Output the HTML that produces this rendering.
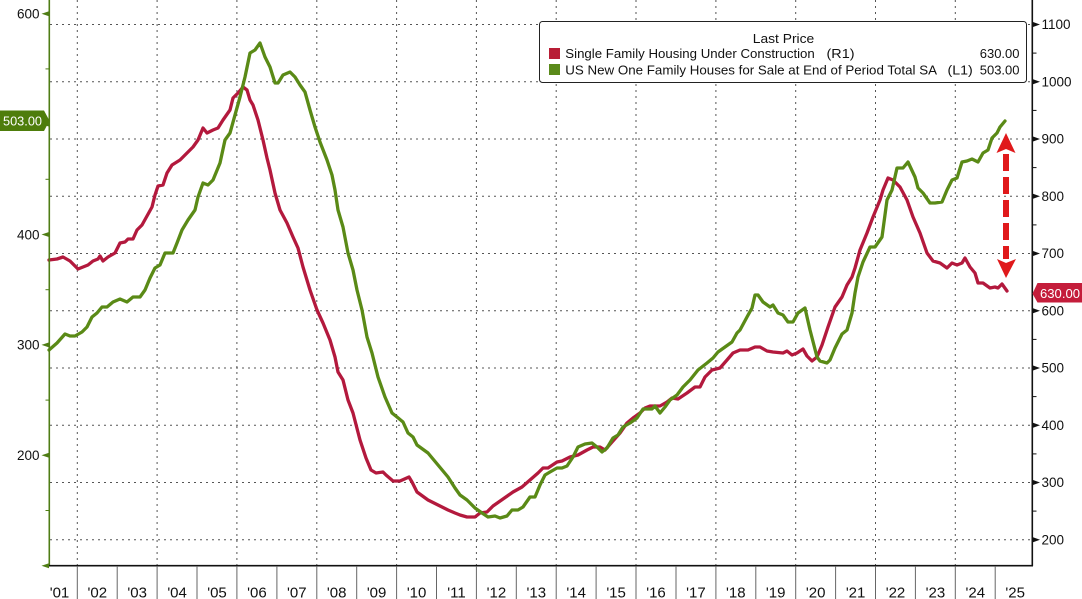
<!DOCTYPE html>
<html><head><meta charset="utf-8"><style>
html,body{margin:0;padding:0;background:#fff;}
svg{display:block;}
text{font-family:"Liberation Sans",Arial,sans-serif;}
</style></head><body>
<svg width="1082" height="599" viewBox="0 0 1082 599" xmlns="http://www.w3.org/2000/svg">
<rect width="1082" height="599" fill="#fff"/>
<g stroke="#555" stroke-width="1" stroke-dasharray="2 4" fill="none">
<line x1="50" y1="539.7" x2="1032" y2="539.7"/>
<line x1="50" y1="482.5" x2="1032" y2="482.5"/>
<line x1="50" y1="425.3" x2="1032" y2="425.3"/>
<line x1="50" y1="368" x2="1032" y2="368"/>
<line x1="50" y1="310.8" x2="1032" y2="310.8"/>
<line x1="50" y1="253.5" x2="1032" y2="253.5"/>
<line x1="50" y1="196.3" x2="1032" y2="196.3"/>
<line x1="50" y1="139" x2="1032" y2="139"/>
<line x1="50" y1="81.8" x2="1032" y2="81.8"/>
<line x1="50" y1="24.5" x2="1032" y2="24.5"/>
<line x1="77.3" y1="0" x2="77.3" y2="565"/>
<line x1="157.1" y1="0" x2="157.1" y2="565"/>
<line x1="236.9" y1="0" x2="236.9" y2="565"/>
<line x1="316.8" y1="0" x2="316.8" y2="565"/>
<line x1="396.6" y1="0" x2="396.6" y2="565"/>
<line x1="476.4" y1="0" x2="476.4" y2="565"/>
<line x1="556.2" y1="0" x2="556.2" y2="565"/>
<line x1="636" y1="0" x2="636" y2="565"/>
<line x1="715.9" y1="0" x2="715.9" y2="565"/>
<line x1="795.7" y1="0" x2="795.7" y2="565"/>
<line x1="875.5" y1="0" x2="875.5" y2="565"/>
<line x1="955.3" y1="0" x2="955.3" y2="565"/>
</g>

<!-- series -->
<polyline fill="none" stroke="#b3193d" stroke-width="3.3" stroke-linejoin="round" stroke-linecap="round" points="49,260 57,259 63,257 70,261 78,269 83,267 88,265 93,261 98,259 100,256 103,261 108,257 115,253 120,243 125,242 128,239 133,239 137,230 142,225 147,216 152,207 155,195 158,186 163,185 167,173 172,165 180,160 187,153 193,147 198,140 203,128 207,133 213,130 218,128 223,120 230,110 233,98 238,93 243,87 247,90 250,100 253,105 258,120 263,140 267,158 270,170 275,193 280,210 287,223 293,237 298,248 303,267 310,290 317,310 323,323 330,340 335,357 338,372 343,380 348,400 353,413 360,440 366,458 371,470 376,473 383,472 386,475 393,481 400,481 409,477 412,482 417,492 428,500 438,505 448,510 455,513 460,515 467,517 475,517 480,513 487,512 493,506 503,499 513,492 522,487 530,480 538,473 543,468 548,468 557,462 562,461 570,457 578,455 587,450 593,447 600,447 605,450 612,442 620,433 627,423 633,418 640,413 645,408 650,406 660,406 667,402 672,398 678,399 687,393 695,387 700,387 705,377 712,370 720,368 727,360 733,353 740,350 748,350 755,347 760,347 767,351 773,352 783,353 787,351 792,355 797,353 803,349 807,356 812,361 817,357 822,345 828,327 835,307 842,297 847,285 852,277 855,268 860,250 867,233 873,217 880,200 883,190 888,178 893,180 900,187 907,200 913,217 920,233 927,253 933,261 940,263 947,268 952,263 957,265 962,263 965,258 970,267 975,273 978,283 983,283 990,288 995,287 998,288 1002,284 1007,291"/>
<polyline fill="none" stroke="#5a8a16" stroke-width="3.3" stroke-linejoin="round" stroke-linecap="round" points="49,350 57,343 65,334 70,336 75,336 82,332 87,327 92,317 97,313 102,307 107,307 113,302 120,299 127,302 133,297 140,297 145,290 150,278 155,268 160,265 165,253 173,253 177,243 182,230 188,220 195,210 198,197 203,183 208,185 213,180 220,163 225,140 230,133 235,115 240,97 245,77 250,53 255,50 260,43 265,57 270,67 275,83 278,83 283,75 290,72 295,77 300,85 305,92 310,110 315,127 320,142 327,160 332,175 335,190 338,210 343,227 348,253 353,270 357,290 362,310 367,337 372,353 378,377 385,397 392,413 397,417 403,422 408,433 413,437 417,445 428,453 438,465 448,477 455,488 460,495 467,500 475,508 482,513 488,517 495,516 500,518 507,516 512,510 518,510 523,507 530,497 535,497 540,485 545,475 550,472 557,468 562,468 567,466 573,457 578,447 585,444 592,443 597,447 602,452 607,448 613,438 618,435 623,427 630,423 637,418 643,409 652,409 655,406 660,413 665,407 670,400 677,395 683,387 690,380 698,370 707,363 713,358 718,352 725,347 732,342 737,333 740,330 747,317 752,308 755,295 758,295 763,302 770,307 773,305 778,313 783,315 788,322 793,322 798,313 805,308 810,330 817,357 820,361 827,363 830,360 835,348 842,334 847,330 852,313 855,293 858,277 863,262 870,247 875,247 882,237 887,200 892,190 897,168 903,168 908,162 915,177 918,188 923,193 930,203 935,203 942,202 947,190 952,180 957,178 962,162 967,161 972,159 978,162 983,153 988,150 992,138 997,133 1000,127 1005,121"/>

<!-- dashed arrow -->
<line x1="1006" y1="154" x2="1006" y2="259" stroke="#e0191b" stroke-width="6" stroke-dasharray="17 6"/>
<polygon points="1006,133 1015.5,153 1006,149 996.5,153" fill="#e0191b"/>
<polygon points="1006,278 1016,259 1006,263 997,259" fill="#e0191b"/>

<!-- legend -->
<rect x="539.5" y="21.5" width="487" height="61" rx="3" ry="3" fill="#fff" stroke="#222" stroke-width="1"/>
<text x="752.8" y="43" font-size="13" fill="#111" textLength="61.4" lengthAdjust="spacingAndGlyphs">Last Price</text>
<rect x="549" y="48" width="11" height="11" fill="#b81d35"/>
<rect x="549" y="64" width="11" height="11" fill="#5a8a1a"/>
<text x="565.3" y="58" font-size="13" fill="#111" textLength="249.5" lengthAdjust="spacingAndGlyphs">Single Family Housing Under Construction</text>
<text x="826.5" y="58" font-size="13" fill="#111" textLength="28" lengthAdjust="spacingAndGlyphs">(R1)</text>
<text x="1019.5" y="58" font-size="13" fill="#111" text-anchor="end">630.00</text>
<text x="565.3" y="74.7" font-size="13" fill="#111" textLength="371.7" lengthAdjust="spacingAndGlyphs">US New One Family Houses for Sale at End of Period Total SA</text>
<text x="947.5" y="74.7" font-size="13" fill="#111" textLength="25.3" lengthAdjust="spacingAndGlyphs">(L1)</text>
<text x="1019.5" y="74.7" font-size="13" fill="#111" text-anchor="end">503.00</text>

<!-- axes -->
<line x1="49.3" y1="0" x2="49.3" y2="566" stroke="#4f7d15" stroke-width="1.6"/>
<line x1="1032.3" y1="0" x2="1032.3" y2="566" stroke="#111" stroke-width="1.6"/>
<line x1="49" y1="565.7" x2="1033" y2="565.7" stroke="#111" stroke-width="1.6"/>

<!-- left ticks -->
<g fill="#4f7d15">
<polygon points="49,11.2 49,16.2 41.5,13.7"/>
<polygon points="49,121.6 49,126.6 41.5,124.1"/>
<polygon points="49,232 49,237 41.5,234.5"/>
<polygon points="49,342.4 49,347.4 41.5,344.9"/>
<polygon points="49,452.8 49,457.8 41.5,455.3"/>
<polygon points="49,563.2 49,568.2 41.5,565.7"/>
</g>
<g stroke="#4f7d15" stroke-width="1">
<line x1="45.5" y1="68.9" x2="49" y2="68.9"/>
<line x1="45.5" y1="179.3" x2="49" y2="179.3"/>
<line x1="45.5" y1="289.7" x2="49" y2="289.7"/>
<line x1="45.5" y1="400.1" x2="49" y2="400.1"/>
<line x1="45.5" y1="510.5" x2="49" y2="510.5"/>
</g>
<g font-size="13.5" fill="#111" text-anchor="end">
<text x="39.5" y="18.5">600</text>
<text x="39.5" y="239.3">400</text>
<text x="39.5" y="349.7">300</text>
<text x="39.5" y="460.1">200</text>
</g>

<!-- 503 tag -->
<polygon points="0,110.5 44,110.5 49.5,120.8 44,131 0,131" fill="#4e7d0b"/>
<text x="3" y="125.5" font-size="13" fill="#fff" textLength="39" lengthAdjust="spacingAndGlyphs">503.00</text>

<!-- right ticks -->
<g fill="#111">
<polygon points="1033,22 1033,27 1040,24.5"/>
<polygon points="1033,79.3 1033,84.3 1040,81.8"/>
<polygon points="1033,136.5 1033,141.5 1040,139"/>
<polygon points="1033,193.8 1033,198.8 1040,196.3"/>
<polygon points="1033,251 1033,256 1040,253.5"/>
<polygon points="1033,308.3 1033,313.3 1040,310.8"/>
<polygon points="1033,365.5 1033,370.5 1040,368"/>
<polygon points="1033,422.8 1033,427.8 1040,425.3"/>
<polygon points="1033,480 1033,485 1040,482.5"/>
<polygon points="1033,537.2 1033,542.2 1040,539.7"/>
</g>
<g stroke="#111" stroke-width="1">
<line x1="1032" y1="53.1" x2="1036.5" y2="53.1"/>
<line x1="1032" y1="110.4" x2="1036.5" y2="110.4"/>
<line x1="1032" y1="167.6" x2="1036.5" y2="167.6"/>
<line x1="1032" y1="224.9" x2="1036.5" y2="224.9"/>
<line x1="1032" y1="339.4" x2="1036.5" y2="339.4"/>
<line x1="1032" y1="396.6" x2="1036.5" y2="396.6"/>
<line x1="1032" y1="453.9" x2="1036.5" y2="453.9"/>
<line x1="1032" y1="511.1" x2="1036.5" y2="511.1"/>
</g>
<g font-size="13.5" fill="#111">
<text x="1041.5" y="29.2">1100</text>
<text x="1041.5" y="86.5">1000</text>
<text x="1041.5" y="143.7">900</text>
<text x="1041.5" y="201">800</text>
<text x="1041.5" y="258.2">700</text>
<text x="1041.5" y="315.5">600</text>
<text x="1041.5" y="372.7">500</text>
<text x="1041.5" y="430">400</text>
<text x="1041.5" y="487.2">300</text>
<text x="1041.5" y="544.4">200</text>
</g>

<!-- 630 tag -->
<polygon points="1032.5,293.6 1037.5,283 1082,283 1082,302.5 1037.5,302.5" fill="#c41d3b"/>
<text x="1040" y="297.8" font-size="13" fill="#fff" textLength="40" lengthAdjust="spacingAndGlyphs">630.00</text>

<!-- x-axis separators -->
<g stroke="#666" stroke-width="1">
<line x1="77.3" y1="566" x2="77.3" y2="599"/>
<line x1="117.2" y1="566" x2="117.2" y2="599"/>
<line x1="157.1" y1="566" x2="157.1" y2="599"/>
<line x1="197" y1="566" x2="197" y2="599"/>
<line x1="236.9" y1="566" x2="236.9" y2="599"/>
<line x1="276.9" y1="566" x2="276.9" y2="599"/>
<line x1="316.8" y1="566" x2="316.8" y2="599"/>
<line x1="356.7" y1="566" x2="356.7" y2="599"/>
<line x1="396.6" y1="566" x2="396.6" y2="599"/>
<line x1="436.5" y1="566" x2="436.5" y2="599"/>
<line x1="476.4" y1="566" x2="476.4" y2="599"/>
<line x1="516.3" y1="566" x2="516.3" y2="599"/>
<line x1="556.2" y1="566" x2="556.2" y2="599"/>
<line x1="596.1" y1="566" x2="596.1" y2="599"/>
<line x1="636" y1="566" x2="636" y2="599"/>
<line x1="676" y1="566" x2="676" y2="599"/>
<line x1="715.9" y1="566" x2="715.9" y2="599"/>
<line x1="755.8" y1="566" x2="755.8" y2="599"/>
<line x1="795.7" y1="566" x2="795.7" y2="599"/>
<line x1="835.6" y1="566" x2="835.6" y2="599"/>
<line x1="875.5" y1="566" x2="875.5" y2="599"/>
<line x1="915.4" y1="566" x2="915.4" y2="599"/>
<line x1="955.3" y1="566" x2="955.3" y2="599"/>
<line x1="995.2" y1="566" x2="995.2" y2="599"/>
</g>
<g font-size="15" fill="#111" text-anchor="middle">
<text x="59.5" y="597.5">'01</text>
<text x="97.3" y="597.5">'02</text>
<text x="137.2" y="597.5">'03</text>
<text x="177.1" y="597.5">'04</text>
<text x="217" y="597.5">'05</text>
<text x="256.9" y="597.5">'06</text>
<text x="296.8" y="597.5">'07</text>
<text x="336.7" y="597.5">'08</text>
<text x="376.6" y="597.5">'09</text>
<text x="416.6" y="597.5">'10</text>
<text x="456.5" y="597.5">'11</text>
<text x="496.4" y="597.5">'12</text>
<text x="536.3" y="597.5">'13</text>
<text x="576.2" y="597.5">'14</text>
<text x="616.1" y="597.5">'15</text>
<text x="656" y="597.5">'16</text>
<text x="695.9" y="597.5">'17</text>
<text x="735.8" y="597.5">'18</text>
<text x="775.7" y="597.5">'19</text>
<text x="815.7" y="597.5">'20</text>
<text x="855.6" y="597.5">'21</text>
<text x="895.5" y="597.5">'22</text>
<text x="935.4" y="597.5">'23</text>
<text x="975.3" y="597.5">'24</text>
<text x="1015.2" y="597.5">'25</text>
</g>
</svg>
</body></html>
